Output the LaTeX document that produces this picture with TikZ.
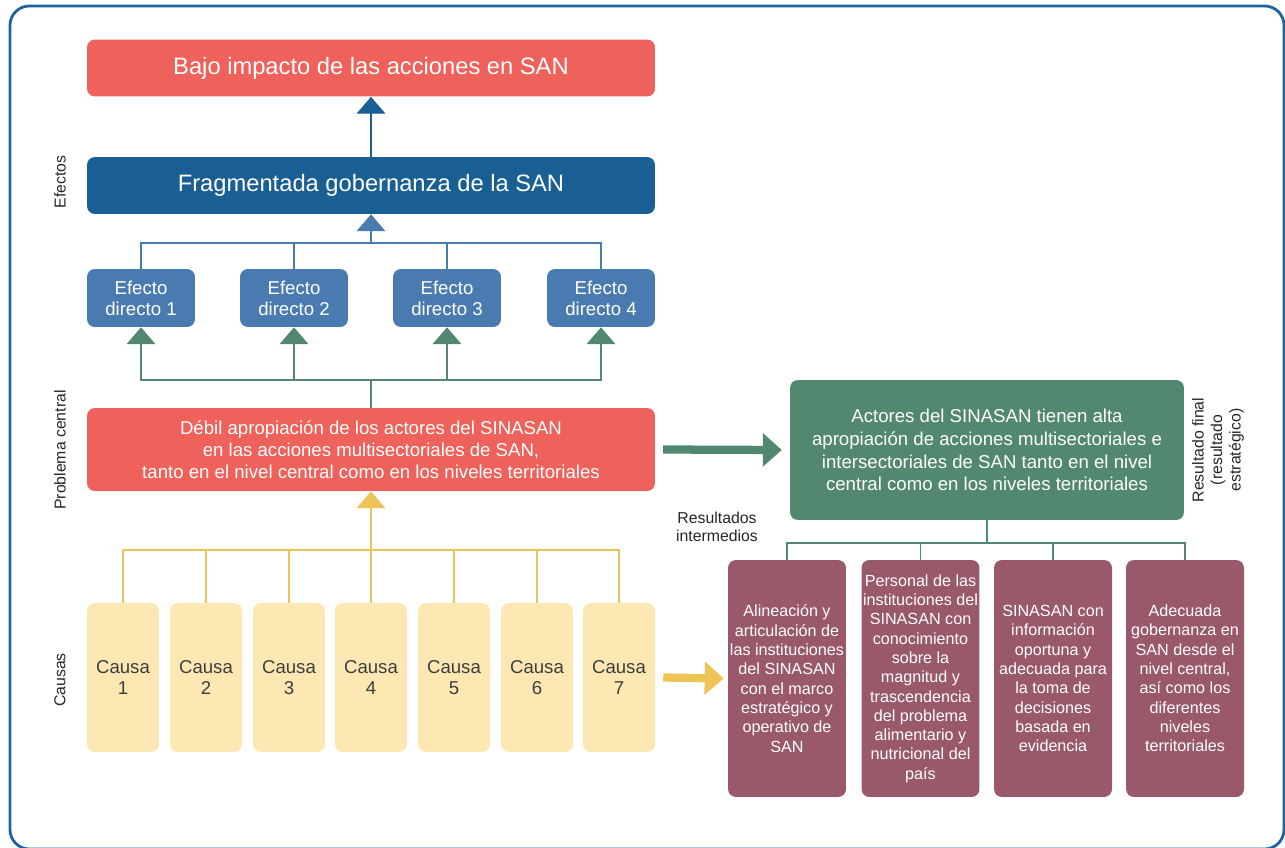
\documentclass[tikz,border=0pt]{standalone}
\usepackage{fontspec}
\setmainfont{Liberation Sans}
\usetikzlibrary{arrows.meta}

\definecolor{sanred}{HTML}{EE625B}
\definecolor{sandark}{HTML}{1A5F94}
\definecolor{sanblue}{HTML}{4A7BB0}
\definecolor{sangreen}{HTML}{528870}
\definecolor{sanplum}{HTML}{9A586B}
\definecolor{sancream}{HTML}{FDE8B4}
\definecolor{sanyellow}{HTML}{EEC358}
\definecolor{sanframe}{HTML}{1F64A0}
\definecolor{sangray}{HTML}{3D3D3D}

\tikzset{
  box/.style={rounded corners=4.5pt, inner sep=0pt, align=center, text=white},
  bigbox/.style={box, fill=#1, minimum width=11.36cm, minimum height=1.14cm,
    font=\fontsize{13.5}{16}\selectfont},
  efbox/.style={box, fill=sanblue, minimum width=2.16cm, minimum height=1.16cm,
    font=\fontsize{10.6}{12}\selectfont},
  causebox/.style={box, fill=sancream, text=sangray, minimum width=1.44cm,
    minimum height=2.98cm, font=\fontsize{10.6}{12}\selectfont},
  resbox/.style={box, fill=sanplum, minimum width=2.36cm, minimum height=4.74cm,
    font=\fontsize{9.2}{11}\selectfont},
  sidelabel/.style={rotate=90, align=center, text=black!85,
    font=\fontsize{9}{10.5}\selectfont},
  tip/.style={-{Triangle[length=9.6pt,width=16.4pt]}},
  link/.style={draw=#1, line width=0.6pt},
  fatarrow/.style={draw=#1, line width=4.7pt,
    -{Triangle[length=10.8pt,width=18.5pt]}},
}

\begin{document}
\begin{tikzpicture}[x=0.02cm, y=-0.02cm]
  \useasboundingbox (0,0) rectangle (1285,848);
  \draw[sanframe, line width=1.6pt, rounded corners=11pt] (10,6) rectangle (1284,849);

  %%side labels
  \node[sidelabel] (lef) at (60,182) {Efectos};
  \node[sidelabel] (lpc) at (60,450) {Problema central};
  \node[sidelabel] (lca) at (60,680) {Causas};

  %%effects
  \node[bigbox=sanred] (impacto) at (371,68) {Bajo impacto de las acciones en SAN};
  \node[bigbox=sandark] (frag) at (371,185.5) {Fragmentada gobernanza de la SAN};
    \draw[link=sandark, tip, sandark] (frag) to (impacto);

  \node[efbox] (ed1) at (141,298) {Efecto\\directo 1};
  \node[efbox] (ed2) at (294,298) {Efecto\\directo 2};
  \node[efbox] (ed3) at (447,298) {Efecto\\directo 3};
  \node[efbox] (ed4) at (601,298) {Efecto\\directo 4};

  \coordinate (busE) at (371,243);
    \draw[link=sanblue] (ed1.north) |- (busE);
    \draw[link=sanblue] (ed2.north) |- (busE);
    \draw[link=sanblue] (ed3.north) |- (busE);
    \draw[link=sanblue] (ed4.north) |- (busE);
    \draw[link=sanblue, tip, sanblue] (busE) to (frag.south);

  %%central problem
  \node[bigbox=sanred, minimum height=1.66cm, font=\fontsize{10.6}{12.5}\selectfont]
    (prob) at (371,449.5)
    {Débil apropiación de los actores del SINASAN\\
     en las acciones multisectoriales de SAN,\\
     tanto en el nivel central como en los niveles territoriales};

  \coordinate (busG) at (371,380);
    \draw[link=sangreen] (prob.north) to (busG);
    \draw[link=sangreen, tip, sangreen] (busG) -| (ed1.south);
    \draw[link=sangreen, tip, sangreen] (busG) -| (ed2.south);
    \draw[link=sangreen, tip, sangreen] (busG) -| (ed3.south);
    \draw[link=sangreen, tip, sangreen] (busG) -| (ed4.south);

  %%causes
  \node[causebox] (c1) at (123,677.5) {Causa\\1};
  \node[causebox] (c2) at (206,677.5) {Causa\\2};
  \node[causebox] (c3) at (289,677.5) {Causa\\3};
  \node[causebox] (c4) at (371,677.5) {Causa\\4};
  \node[causebox] (c5) at (454,677.5) {Causa\\5};
  \node[causebox] (c6) at (537,677.5) {Causa\\6};
  \node[causebox] (c7) at (619,677.5) {Causa\\7};

  \coordinate (busY) at (371,550);
    \draw[link=sanyellow] (c1.north) |- (busY);
    \draw[link=sanyellow] (c2.north) |- (busY);
    \draw[link=sanyellow] (c3.north) |- (busY);
    \draw[link=sanyellow] (c4.north) to (busY);
    \draw[link=sanyellow] (c5.north) |- (busY);
    \draw[link=sanyellow] (c6.north) |- (busY);
    \draw[link=sanyellow] (c7.north) |- (busY);
    \draw[link=sanyellow, tip, sanyellow] (busY) to (prob.south);

  %%final result
  \node[box, fill=sangreen, minimum width=7.88cm, minimum height=2.8cm,
    font=\fontsize{10.6}{13}\selectfont] (final) at (987,450)
    {Actores del SINASAN tienen alta\\
     apropiación de acciones multisectoriales e\\
     intersectoriales de SAN tanto en el nivel\\
     central como en los niveles territoriales};
  \node[sidelabel] (lrf) at (1218,450) {Resultado final\\(resultado\\estratégico)};
    \draw[fatarrow=sangreen] ([xshift=4.5pt]prob.east) to ([xshift=-4.5pt]final.west);

  %%intermediate results
  \node[align=center, text=black!85, font=\fontsize{9}{10.5}\selectfont]
    (lri) at (717,527) {Resultados\\intermedios};

  \node[resbox] (r1) at (787,678.5)
    {Alineación y\\articulación de\\las instituciones\\del SINASAN\\con el marco\\estratégico y\\operativo de\\SAN};
  \node[resbox] (r2) at (920.5,678.5)
    {Personal de las\\instituciones del\\SINASAN con\\conocimiento\\sobre la\\magnitud y\\trascendencia\\del problema\\alimentario y\\nutricional del\\país};
  \node[resbox] (r3) at (1053,678.5)
    {SINASAN con\\información\\oportuna y\\adecuada para\\la toma de\\decisiones\\basada en\\evidencia};
  \node[resbox] (r4) at (1185,678.5)
    {Adecuada\\gobernanza en\\SAN desde el\\nivel central,\\así como los\\diferentes\\niveles\\territoriales};

  \coordinate (busP) at (987,543);
    \draw[link=sangreen] (final.south) to (busP);
    \draw[link=sangreen] (busP) -| (r1.north);
    \draw[link=sangreen] (busP) -| (r2.north);
    \draw[link=sangreen] (busP) -| (r3.north);
    \draw[link=sangreen] (busP) -| (r4.north);

    \draw[fatarrow=sanyellow] ([xshift=4.5pt]c7.east) to ([xshift=-2.3pt]r1.west);
\end{tikzpicture}
\end{document}
